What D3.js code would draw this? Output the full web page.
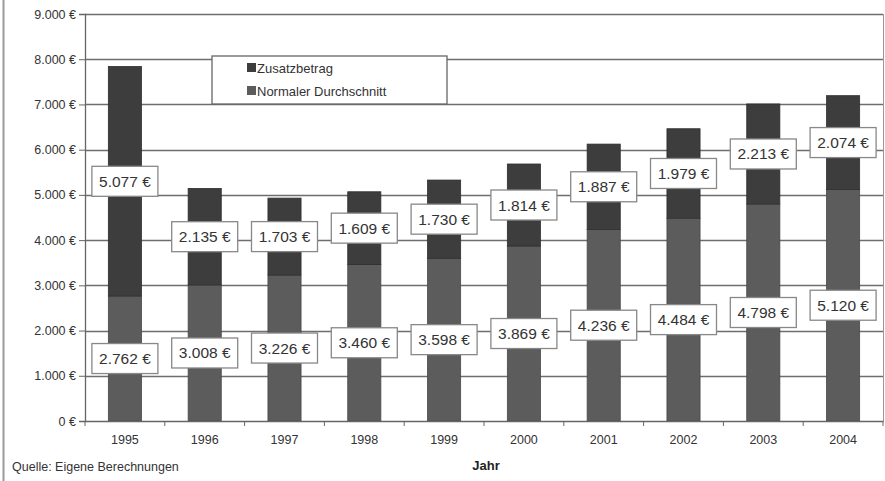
<!DOCTYPE html>
<html><head><meta charset="utf-8">
<script src="https://cdn.jsdelivr.net/npm/d3@7/dist/d3.min.js"></script>
<style>body{margin:0;background:#fff;} text{font-family:Arial,"Liberation Sans",sans-serif;}</style>
</head><body><svg id="c" width="885" height="481"></svg>
<script>
const years = ["1995","1996","1997","1998","1999","2000","2001","2002","2003","2004"];
const normal = [2762,3008,3226,3460,3598,3869,4236,4484,4798,5120];
const zusatz = [5077,2135,1703,1609,1730,1814,1887,1979,2213,2074];
const yTicks = [0,1000,2000,3000,4000,5000,6000,7000,8000,9000];
const seriesNames = ["Zusatzbetrag","Normaler Durchschnitt"];
const colors = {zusatz:"#3d3d3d", normal:"#5c5c5c"};

const fmt = v => d3.format(",")(v).replace(/,/g,".") + " €";
const svg = d3.select("#c");
const L=85, R=883, T=14, B=421;
const x = d3.scaleBand().domain(years).range([L,R]).paddingInner(0.585).paddingOuter(0.2925);
const y = d3.scaleLinear().domain([0,9000]).range([B,T]);

svg.append("line").attr("x1",3.5).attr("x2",3.5).attr("y1",0).attr("y2",481).attr("stroke","#9a9a9a").attr("stroke-width",2);
svg.append("line").attr("x1",R+0.5).attr("x2",R+0.5).attr("y1",T).attr("y2",B).attr("stroke","#999").attr("stroke-width",1);

svg.append("g").selectAll("line").data(yTicks.filter(d=>d>0)).join("line")
  .attr("x1",L).attr("x2",R).attr("y1",d=>Math.round(y(d))+0.5).attr("y2",d=>Math.round(y(d))+0.5)
  .attr("stroke","#6e6e6e").attr("stroke-width",1.3);

const g = svg.append("g");
years.forEach((yr,i)=>{
  g.append("rect").attr("x",x(yr)).attr("width",x.bandwidth())
    .attr("y",y(normal[i])).attr("height",y(0)-y(normal[i]))
    .attr("fill",colors.normal).attr("stroke","#484848").attr("stroke-width",0.8);
  g.append("rect").attr("x",x(yr)).attr("width",x.bandwidth())
    .attr("y",y(normal[i]+zusatz[i])).attr("height",y(normal[i])-y(normal[i]+zusatz[i]))
    .attr("fill",colors.zusatz).attr("stroke","#2e2e2e").attr("stroke-width",0.8);
});

const yAxis = d3.axisLeft(y).tickValues(yTicks).tickFormat(fmt).tickSize(6).tickPadding(3);
const ya = svg.append("g").attr("transform",`translate(${L},0)`).call(yAxis);
ya.select(".domain").attr("stroke","#666").attr("stroke-width",1.3);
ya.selectAll(".tick line").attr("stroke","#666");
ya.selectAll("text").attr("font-size",12.5).attr("fill","#333");

const xa = svg.append("g").attr("transform",`translate(0,${B})`).call(d3.axisBottom(x).tickSize(0).tickPadding(14));
xa.select(".domain").attr("stroke","#666").attr("stroke-width",1.3);
xa.selectAll("text").attr("font-size",12.5).attr("fill","#333");
const bw = (R-L)/years.length;
svg.append("g").selectAll("line").data(d3.range(0,years.length+1)).join("line")
  .attr("x1",i=>L+i*bw).attr("x2",i=>L+i*bw).attr("y1",B).attr("y2",B+5).attr("stroke","#666");

function label(cx, cy, txt){
  const w=66,h=30;
  svg.append("rect").attr("x",cx-w/2).attr("y",cy-h/2).attr("width",w).attr("height",h)
    .attr("fill","#fff").attr("stroke","#888").attr("stroke-width",1.3);
  svg.append("text").attr("x",cx).attr("y",cy+5.5).attr("text-anchor","middle")
    .attr("font-size",15.5).attr("fill","#333").text(txt);
}
years.forEach((yr,i)=>{
  const cx = x(yr)+x.bandwidth()/2;
  label(cx, y(normal[i]/2), fmt(normal[i]));
  label(cx, y(normal[i]+zusatz[i]/2), fmt(zusatz[i]));
});

const lg = svg.append("g");
lg.append("rect").attr("x",212).attr("y",56).attr("width",235).attr("height",48)
  .attr("fill","#fff").attr("stroke","#666").attr("stroke-width",1.3);
seriesNames.forEach((n,i)=>{
  const yy = 68 + i*23;
  lg.append("rect").attr("x",247).attr("y",yy-5).attr("width",9).attr("height",9)
    .attr("fill", i===0?colors.zusatz:colors.normal);
  lg.append("text").attr("x",257).attr("y",yy+4.5).attr("font-size",13).attr("fill","#333").text(n);
});

svg.append("text").attr("x",486).attr("y",470).attr("text-anchor","middle").attr("font-size",13)
  .attr("font-weight","bold").attr("fill","#222").text("Jahr");
svg.append("text").attr("x",12).attr("y",471).attr("font-size",12.5).attr("fill","#333").text("Quelle: Eigene Berechnungen");
</script></body></html>
